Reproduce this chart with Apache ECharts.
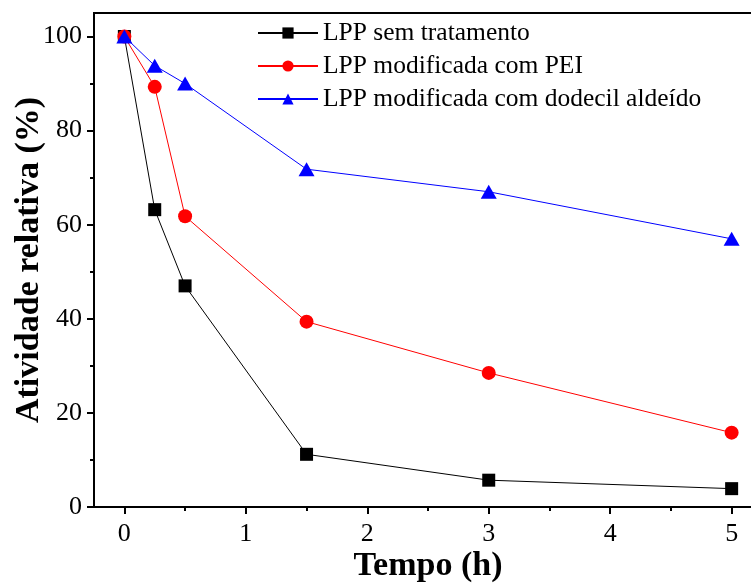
<!DOCTYPE html>
<html>
<head>
<meta charset="utf-8">
<script src="https://cdn.jsdelivr.net/npm/echarts@6/dist/echarts.min.js"></script>
<style>
  html, body { margin: 0; padding: 0; background: #fff; }
  #chart { width: 751px; height: 583px; }
</style>
</head>
<body>
<div id="chart"></div>
<script>
  // tempo (h)
  var tempo = [0, 0.25, 0.5, 1.5, 3, 5];
  // atividade relativa (%)
  var semTratamento = [100, 63.2, 47.0, 11.2, 5.7, 3.9];
  var comPEI = [100, 89.3, 61.8, 39.4, 28.5, 15.8];
  var comDodecil = [100, 93.8, 90.0, 71.8, 67.0, 57.0];

  var xMajor = [0, 1, 2, 3, 4, 5];
  var xMinor = [0.5, 1.5, 2.5, 3.5, 4.5];
  var yMajor = [0, 20, 40, 60, 80, 100];
  var yMinor = [10, 30, 50, 70, 90];

  var nomes = ['LPP sem tratamento', 'LPP modificada com PEI', 'LPP modificada com dodecil aldeído'];

  function pares(vals) {
    return tempo.map(function (t, i) { return [t, vals[i]]; });
  }

  var fonte = 'Liberation Serif';

  var myChart = echarts.init(document.getElementById('chart'));
  var option = {
    animation: false,
    textStyle: { fontFamily: fonte },
    grid: {
      left: 94,
      top: 13,
      right: -11,
      bottom: 76,
      outerBoundsMode: 'none',
      containLabel: false,
      show: true,
      borderColor: '#000',
      borderWidth: 2
    },
    legend: {
      orient: 'vertical',
      left: 252,
      top: 15,
      itemWidth: 60,
      itemHeight: 14,
      itemGap: 7,
      data: nomes,
      textStyle: { fontFamily: fonte, fontSize: 25.5, color: '#000' }
    },
    xAxis: [
      {
        type: 'value',
        min: -0.25,
        max: 5.25,
        name: 'Tempo (h)',
        nameLocation: 'middle',
        nameGap: 42,
        nameMoveOverlap: false,
        nameTextStyle: { fontFamily: fonte, fontSize: 34, fontWeight: 'bold', color: '#000' },
        axisLine: { show: true, onZero: false, lineStyle: { color: '#000', width: 2 } },
        axisTick: { show: true, length: 7, customValues: xMajor, lineStyle: { color: '#000', width: 2 } },
        axisLabel: { customValues: xMajor, margin: 14, fontFamily: fonte, fontSize: 26, color: '#000' },
        splitLine: { show: false }
      },
      {
        type: 'value',
        min: -0.25,
        max: 5.25,
        position: 'bottom',
        axisLine: { show: false, onZero: false },
        axisTick: { show: true, length: 4, customValues: xMinor, lineStyle: { color: '#000', width: 2 } },
        axisLabel: { show: false },
        splitLine: { show: false }
      }
    ],
    yAxis: [
      {
        type: 'value',
        min: 0,
        max: 105,
        name: 'Atividade relativa (%)',
        nameLocation: 'middle',
        nameGap: 48,
        nameMoveOverlap: false,
        nameTextStyle: { fontFamily: fonte, fontSize: 34, fontWeight: 'bold', color: '#000' },
        axisLine: { show: true, onZero: false, lineStyle: { color: '#000', width: 2 } },
        axisTick: { show: true, length: 7, customValues: yMajor, lineStyle: { color: '#000', width: 2 } },
        axisLabel: { customValues: yMajor, margin: 12, fontFamily: fonte, fontSize: 26, color: '#000' },
        splitLine: { show: false }
      },
      {
        type: 'value',
        min: 0,
        max: 105,
        position: 'left',
        axisLine: { show: false, onZero: false },
        axisTick: { show: true, length: 4, customValues: yMinor, lineStyle: { color: '#000', width: 2 } },
        axisLabel: { show: false },
        splitLine: { show: false }
      }
    ],
    series: [
      {
        name: nomes[0],
        type: 'line',
        data: pares(semTratamento),
        symbol: 'rect',
        symbolSize: 13,
        lineStyle: { color: '#000', width: 1 },
        itemStyle: { color: '#000' },
        z: 2
      },
      {
        name: nomes[1],
        type: 'line',
        data: pares(comPEI),
        symbol: 'circle',
        symbolSize: 14,
        lineStyle: { color: '#ff0000', width: 1 },
        itemStyle: { color: '#ff0000' },
        z: 3
      },
      {
        name: nomes[2],
        type: 'line',
        data: pares(comDodecil),
        symbol: 'triangle',
        symbolSize: [16, 14],
        lineStyle: { color: '#0000ff', width: 1 },
        itemStyle: { color: '#0000ff' },
        z: 4
      }
    ]
  };
  myChart.setOption(option);
</script>
</body>
</html>
